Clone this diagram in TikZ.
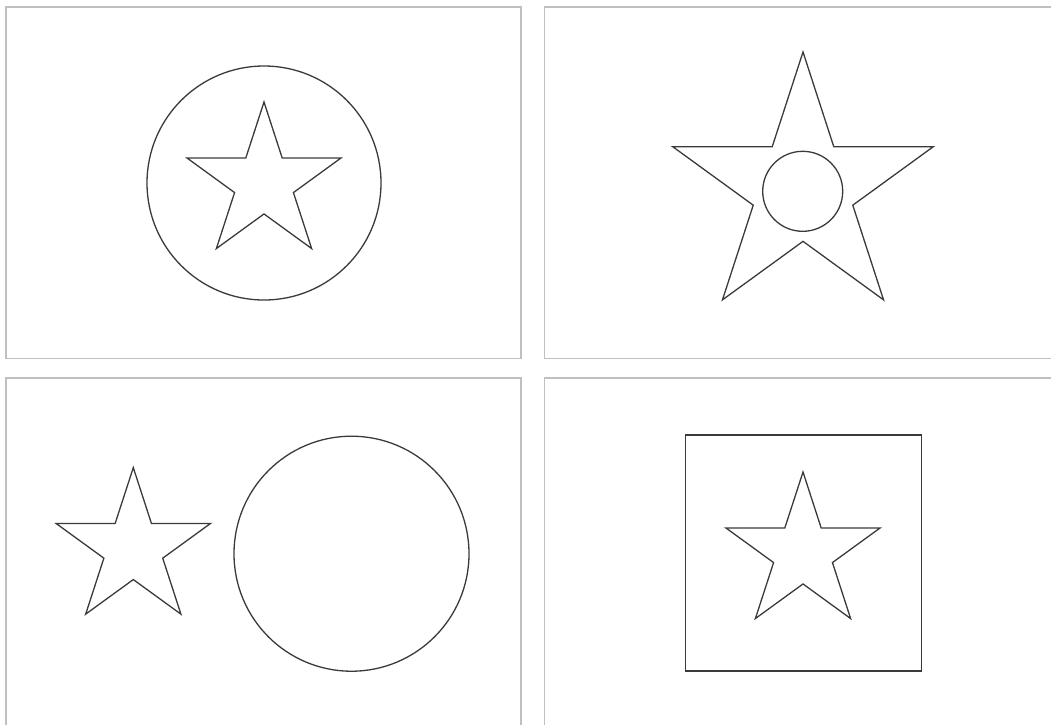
\documentclass[tikz,border=0pt]{standalone}
\usepackage{tikz}
\usetikzlibrary{positioning,calc}
\definecolor{framegray}{RGB}{192,192,192}
\definecolor{inkgray}{RGB}{58,58,58}
% five-pointed star: centre x, centre y, outer radius
\newcommand{\pentastar}[3]{%
  \draw[outline, shift={(#1,#2)}] (-90:#3)
    \foreach \k in {1,...,9} {-- ({-90+36*\k}:{ifthenelse(isodd(\k),0.382,1)*#3})} -- cycle;}

\begin{document}
\begin{tikzpicture}[x=1pt,y=-1pt]
  \tikzstyle{frame}=[draw=framegray, line width=1.5pt]
  \tikzstyle{outline}=[draw=inkgray, line width=1.3pt, line join=miter]
  \useasboundingbox (0,0) rectangle (1051,724);
  \clip (0,0) rectangle (1051,724);
  % four panels
  \draw[frame] (6,7) rectangle (521,358.5);
  \draw[frame] (544.5,7) rectangle (1070,358.5);
  \draw[frame] (6,378) rectangle (521,740);
  \draw[frame] (544.5,378) rectangle (1070,740);
  % panel 1: star in circle
  \coordinate (ringA) at (264,183);
  \draw[outline] (ringA) circle[radius=117];
  \pentastar{264}{183}{81}
  % panel 2: circle in star
  \coordinate (dotB) at (802.7,191.3);
  \pentastar{803}{189}{137}
  \draw[outline] (dotB) circle[radius=40];
  % panel 3: star beside circle
  \coordinate (ringC) at (351.5,553.7);
  \pentastar{133.3}{548.6}{81}
  \draw[outline] (ringC) circle[radius=117.5];
  % panel 4: star in square
  \coordinate (boxD) at (803.5,553);
  \draw[outline] ($(boxD)+(-118,-118)$) rectangle ($(boxD)+(118,118)$);
  \pentastar{803}{553}{81}
\end{tikzpicture}
\end{document}
